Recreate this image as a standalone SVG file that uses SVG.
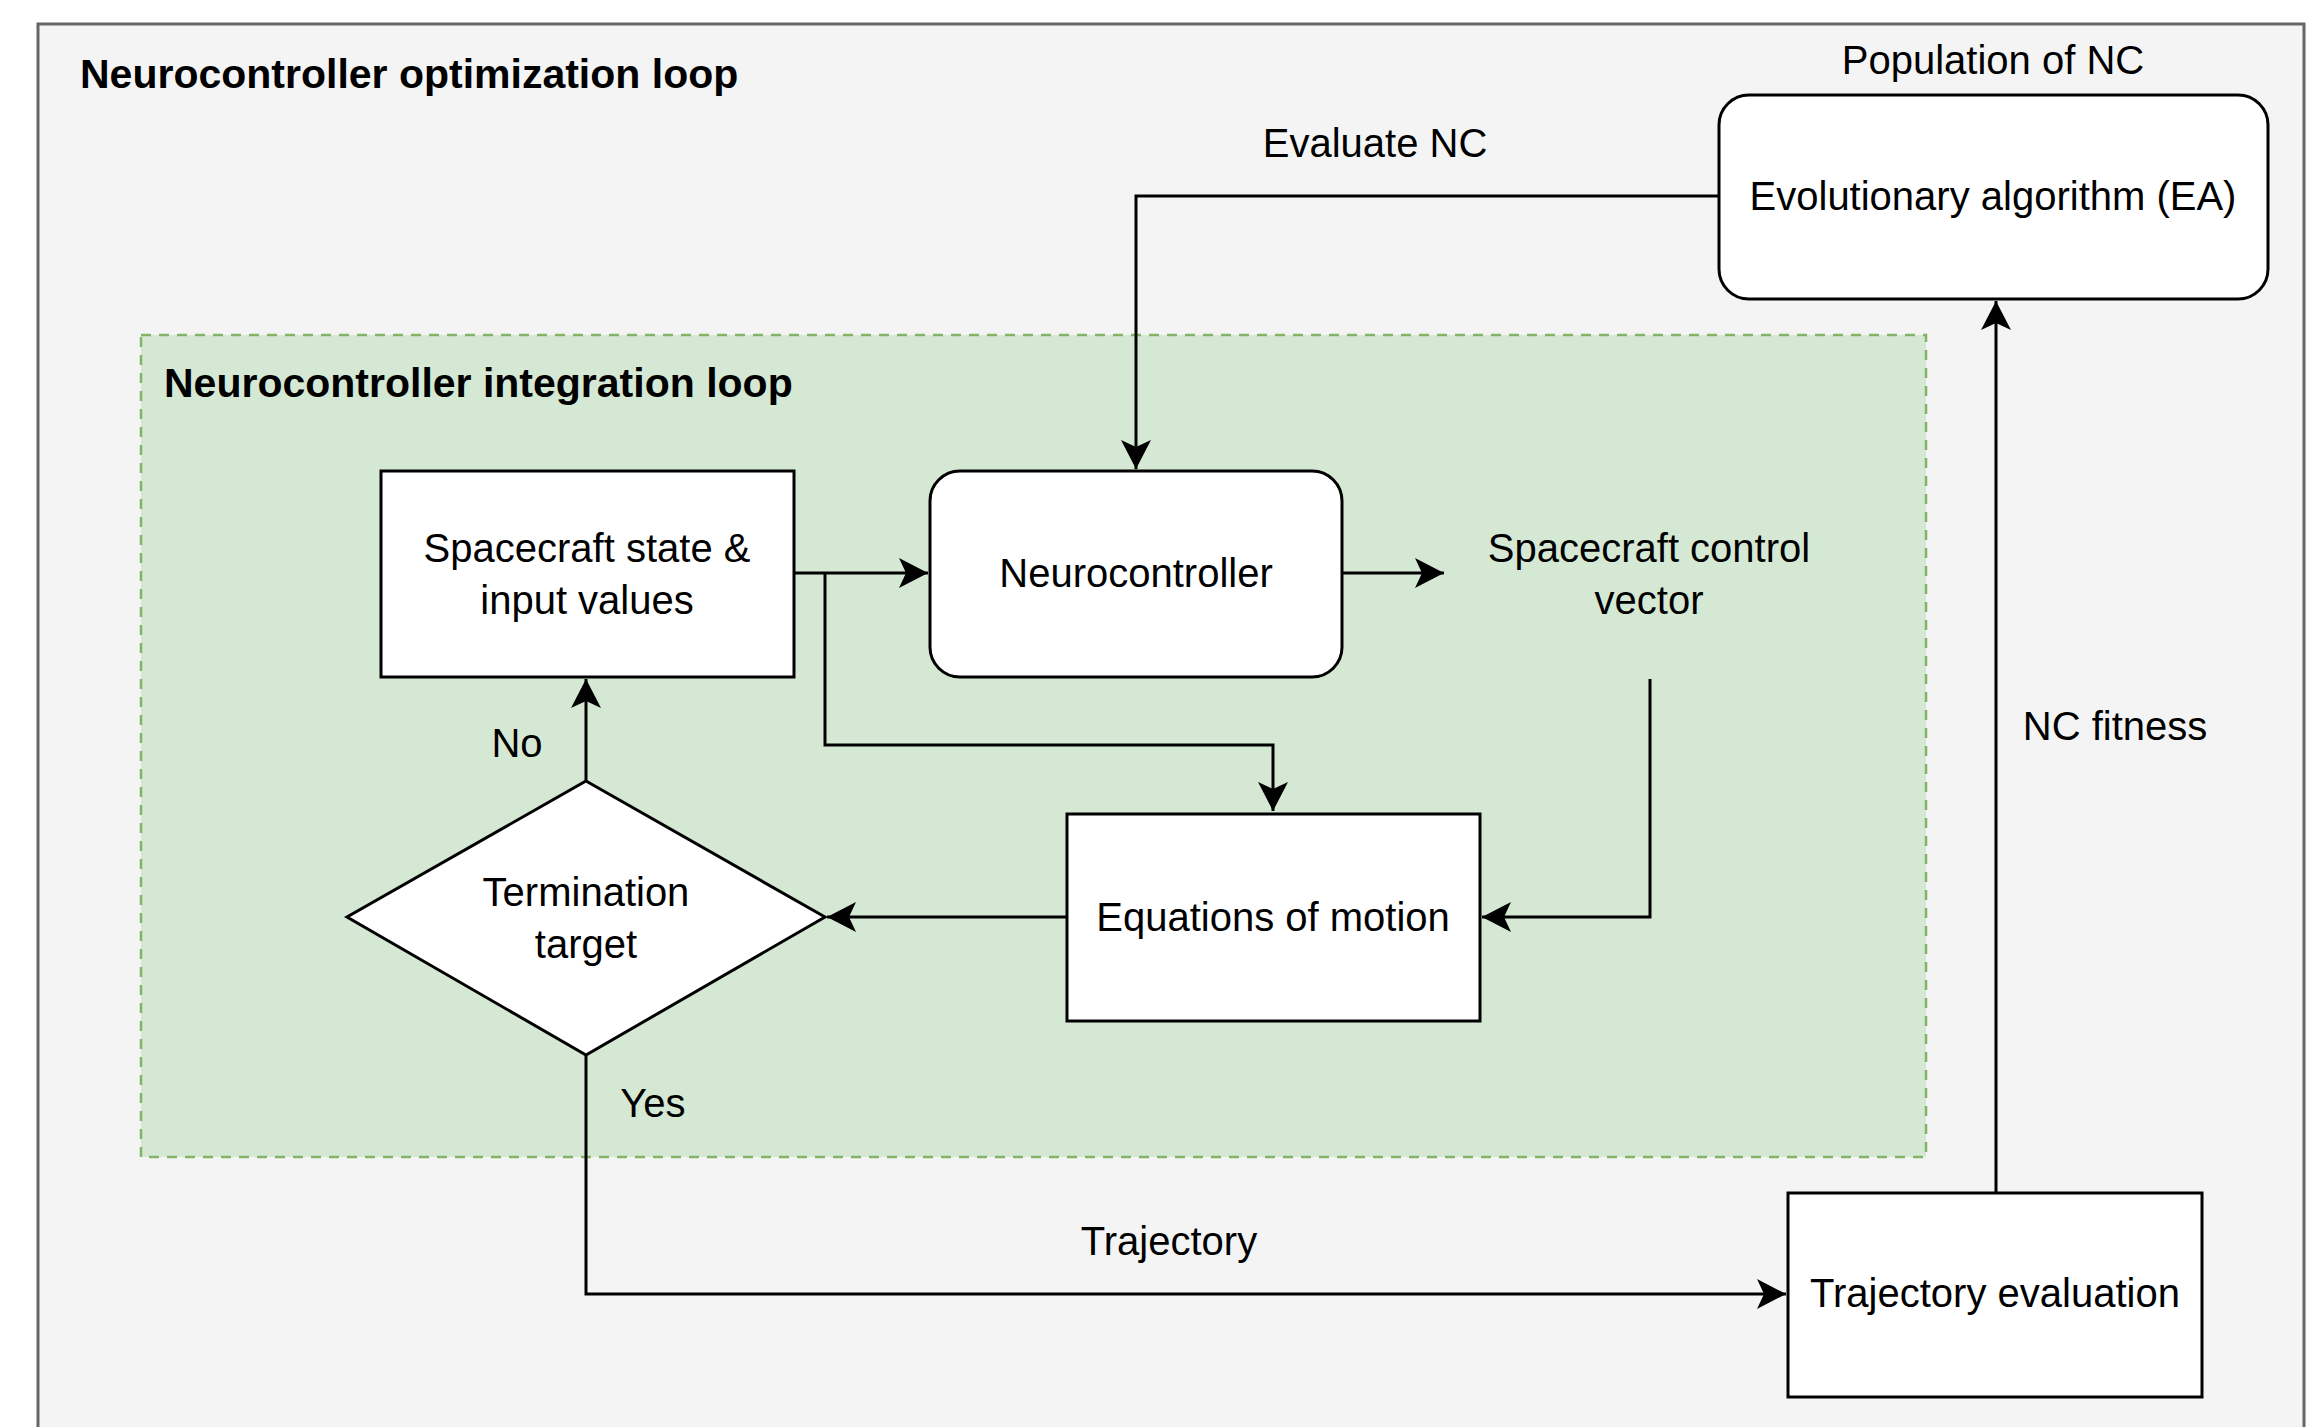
<svg xmlns="http://www.w3.org/2000/svg" width="2323" height="1427" viewBox="0 0 2323 1427">
<style>
text{font-family:"Liberation Sans",Arial,sans-serif;font-size:40px;fill:#000}
.b{font-weight:bold;font-size:41px}
.m{text-anchor:middle}
.node{fill:#fff;stroke:#000;stroke-width:3}
.edge{fill:none;stroke:#000;stroke-width:3}
</style>
<defs>
<marker id="arr" markerUnits="userSpaceOnUse" markerWidth="30" markerHeight="30" viewBox="0 0 30 30" refX="29" refY="15" orient="auto">
<path d="M0,0 L29,15 L0,30 L7,15 Z" fill="#000"/>
</marker>
</defs>
<rect width="2323" height="1427" fill="#fff"/>
<g id="optimization-loop">
<rect x="38" y="24" width="2266" height="1420" fill="#f4f4f4" stroke="#666" stroke-width="3"/>
<text class="b" x="80" y="88">Neurocontroller optimization loop</text>
</g>
<g id="integration-loop">
<rect x="141" y="335" width="1785" height="822" fill="#d5e8d4" stroke="#82b366" stroke-width="2.5" stroke-dasharray="10 8"/>
<text class="b" x="164" y="397">Neurocontroller integration loop</text>
</g>
<g id="connectors">
<path class="edge" d="M1718,196 H1136 V469" marker-end="url(#arr)"/>
<path class="edge" d="M794,573 H928" marker-end="url(#arr)"/>
<path class="edge" d="M1342,573 H1444" marker-end="url(#arr)"/>
<path class="edge" d="M825,573 V745 H1273 V811" marker-end="url(#arr)"/>
<path class="edge" d="M1650,679 V917 H1482" marker-end="url(#arr)"/>
<path class="edge" d="M1067,917 H827" marker-end="url(#arr)"/>
<path class="edge" d="M586,781 V679" marker-end="url(#arr)"/>
<path class="edge" d="M586,1055 V1294 H1786" marker-end="url(#arr)"/>
<path class="edge" d="M1996,1193 V301" marker-end="url(#arr)"/>
<text class="m" x="1375" y="157">Evaluate NC</text>
<text class="m" x="517" y="757">No</text>
<text class="m" x="653" y="1117">Yes</text>
<text class="m" x="1169" y="1255">Trajectory</text>
<text class="m" x="2115" y="740">NC fitness</text>
</g>
<g id="ea">
<rect class="node" x="1719" y="95" width="549" height="204" rx="30"/>
<text class="m" x="1993" y="74">Population of NC</text>
<text class="m" x="1993" y="210">Evolutionary algorithm (EA)</text>
</g>
<g id="spacecraft-state">
<rect class="node" x="381" y="471" width="413" height="206"/>
<text class="m" x="587" y="562">Spacecraft state &amp;</text>
<text class="m" x="587" y="614">input values</text>
</g>
<g id="neurocontroller">
<rect class="node" x="930" y="471" width="412" height="206" rx="30"/>
<text class="m" x="1136" y="587">Neurocontroller</text>
</g>
<g id="control-vector">
<text class="m" x="1649" y="562">Spacecraft control</text>
<text class="m" x="1649" y="614">vector</text>
</g>
<g id="equations-of-motion">
<rect class="node" x="1067" y="814" width="413" height="207"/>
<text class="m" x="1273" y="931">Equations of motion</text>
</g>
<g id="termination">
<path class="node" d="M586,781 L825,917 L586,1055 L347,917 Z"/>
<text class="m" x="586" y="906">Termination</text>
<text class="m" x="586" y="958">target</text>
</g>
<g id="trajectory-evaluation">
<rect class="node" x="1788" y="1193" width="414" height="204"/>
<text class="m" x="1995" y="1307">Trajectory evaluation</text>
</g>
</svg>
